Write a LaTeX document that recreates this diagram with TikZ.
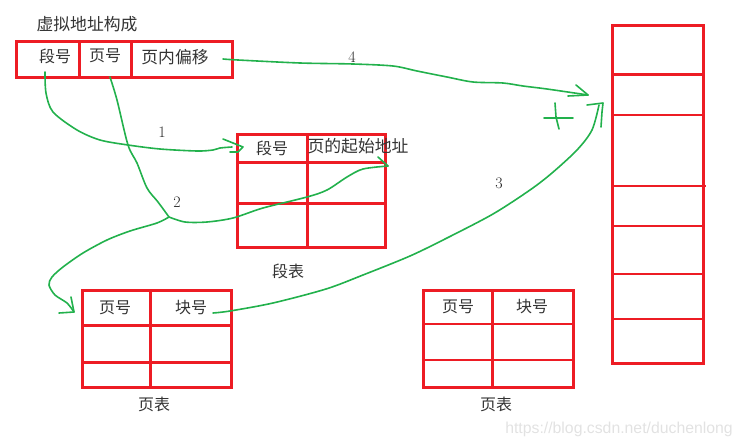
\documentclass[tikz,border=0pt]{standalone}
\usepackage{fontspec}
\newfontfamily\cjkfont{Noto Sans CJK SC}
\newfontfamily\wmfont{Liberation Sans}
\definecolor{paintred}{HTML}{ED1C24}
\definecolor{paintgreen}{HTML}{22B14C}
\definecolor{wmgrey}{HTML}{E2E2E2}
\tikzset{
  redline/.style={draw=paintred,line width=3pt},
  thinred/.style={draw=paintred,line width=2.7pt},
  ink/.style={draw=paintgreen,line width=1.6pt,line cap=round,line join=round},
  label/.style={inner sep=0pt,text=black!80,font=\fontsize{16}{18}\selectfont\cjkfont},
  widelabel/.style={inner sep=0pt,text=black!80,font=\fontsize{16.8}{18}\selectfont\cjkfont},
  num/.style={inner sep=0pt,text=black!85,font=\fontsize{16}{18}\selectfont\rmfamily},
  wm/.style={inner sep=0pt,text=wmgrey,font=\fontsize{15.8}{18}\selectfont\wmfont}
}
\begin{document}
\begin{tikzpicture}[x=1pt,y=-1pt]
\useasboundingbox (0,0) rectangle (742,447);
% address bar
\draw[redline] (16,41) rectangle (232,77);
\draw[redline] (79,41) -- (79,77) (131,41) -- (131,77);
% segment table
\draw[redline] (237,134) rectangle (385,247);
\draw[redline] (237,162) -- (385,162) (237,203) -- (385,203) (307,134) -- (307,248);
% page table 1
\draw[redline] (82,290) rectangle (231,387);
\draw[redline] (82,325) -- (231,325) (82,362) -- (231,362) (150,290) -- (150,387);
% page table 2
\draw[redline] (423,290) rectangle (573,387);
\draw[thinred] (423,324) -- (573,324) (423,360) -- (573,360);
\draw[redline] (492,290) -- (492,387);
% memory
\draw[redline] (612,25) rectangle (703,363);
\draw[thinred] (612,74.5) -- (703,74.5) (612,115) -- (703,115) (612,186) -- (706,186)
  (612,226) -- (703,226) (612,274) -- (703,274) (612,319) -- (705,319);
% texts
\node[widelabel] (title) at (87,24) {虚拟地址构成};
\node[label] (a1) at (55,56) {段号};
\node[label] (a2) at (105,56) {页号};
\node[widelabel] (a3) at (175,57) {页内偏移};
\node[label] (s1) at (272,148) {段号};
\node[widelabel] (s2) at (358,146) {页的起始地址};
\node[label] (st) at (288,271) {段表};
\node[label] (p1) at (115,308) {页号};
\node[label] (p2) at (191,308) {块号};
\node[label] (pt) at (154,404) {页表};
\node[label] (q1) at (458,307) {页号};
\node[label] (q2) at (532,307) {块号};
\node[label] (qt) at (496,404) {页表};
\node[num] (n1) at (162,132) {1};
\node[num] (n2) at (177,202) {2};
\node[num] (n3) at (499,183) {3};
\node[num] (n4) at (352,57) {4};
\node[wm] (mark) at (619,429) {https://blog.csdn.net/duchenlong};
% connector ends
\coordinate (c1s) at (45,72);
\coordinate (c1e) at (243,147);
\coordinate (c2s) at (110,77);
\coordinate (fork) at (169,217);
\coordinate (c2a) at (388,166);
\coordinate (c2b) at (74,312);
\coordinate (c3s) at (213,313);
\coordinate (c3e) at (603,103);
\coordinate (c4s) at (223,59);
\coordinate (c4e) at (588,95);
% green strokes
\draw[ink] plot[smooth,tension=.5] coordinates {(c1s) (46,93) (53,112) (77,130) (100,140) (128,145) (160,149) (197,151) (213,150) (220,148) (232,147)};
\draw[ink] (223,139) -- (c1e) -- (238,152) -- (230,152);
\draw[ink] plot[smooth,tension=.5] coordinates {(c2s) (117,100) (128,145) (137,163) (147,188) (158,202) (fork)};
\draw[ink] plot[smooth,tension=.5] coordinates {(fork) (185,222) (207,222) (233,218) (263,208) (307,197) (327,190) (347,177) (363,169) (c2a)};
\draw[ink] (378,157) -- (c2a);
\draw[ink] plot[smooth,tension=.5] coordinates {(fork) (157,223) (130,231) (107,240) (83,253) (63,267) (52,277) (49,285) (55,295) (67,303) (c2b)};
\draw[ink] (71,297) -- (c2b) -- (59,313);
\draw[ink] plot[smooth,tension=.5] coordinates {(c3s) (230,311) (273,303) (326,289) (363,275) (410,256) (447,238) (493,214) (530,190) (552,173) (577,150) (592,130) (599,105)};
\draw[ink] (587,105) -- (c3e) -- (602,112) -- (601,127);
\draw[ink] plot[smooth,tension=.5] coordinates {(c4s) (238,60) (300,63) (353,64) (393,66) (417,71) (447,77) (473,82) (503,83) (523,86) (547,89) (c4e)};
\draw[ink] (576,85) -- (c4e) -- (568,96);
% plus sign
\draw[ink] (544,118) -- (573,118);
\draw[ink] (555,103) -- (556,117) -- (559,129);
\end{tikzpicture}
\end{document}
